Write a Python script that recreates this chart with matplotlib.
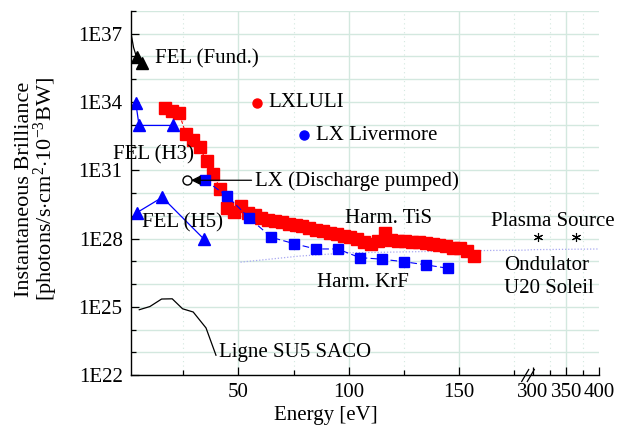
#!/usr/bin/env python3
import numpy as np
import matplotlib
matplotlib.use("Agg")
import matplotlib.pyplot as plt

plt.rcParams["font.family"] = ["Liberation Serif", "DejaVu Serif"]
plt.rcParams["font.size"] = 15
plt.rcParams["mathtext.fontset"] = "custom"
plt.rcParams["mathtext.rm"] = "Liberation Serif"
plt.rcParams["mathtext.it"] = "Liberation Serif:italic"

# --- data (energy in eV, brilliance as log10) ---
tis_e = [17.05, 20.15, 23.25, 26.35, 29.45, 32.55, 35.65, 38.75, 41.85, 44.95,
         48.05, 51.15, 54.25, 57.35, 60.45, 63.55, 66.65, 69.75, 72.85, 75.95,
         79.05, 82.15, 85.25, 88.35, 91.45, 94.55, 97.65, 100.75, 103.85, 106.95,
         110.05, 113.15, 116.25, 119.35, 122.45, 125.55, 128.65, 131.75, 134.85,
         137.95, 141.05, 144.15, 147.25, 150.35, 153.45, 156.55]
tis_log = [33.72, 33.59, 33.50, 32.58, 32.31, 32.00, 31.39, 30.83, 30.17, 29.34,
           29.16, 29.42, 29.12, 29.03, 28.90, 28.81, 28.77, 28.72, 28.64, 28.59,
           28.55, 28.46, 28.37, 28.33, 28.24, 28.20, 28.11, 28.07, 27.98, 27.85,
           27.76, 27.89, 28.24, 27.93, 27.89, 27.89, 27.85, 27.85, 27.80,
           27.76, 27.72, 27.67, 27.58, 27.58, 27.46, 27.24]

krf_e = [35, 45, 55, 65, 75, 85, 95, 105, 115, 125, 135, 145]
krf_log = [30.56, 29.86, 28.90, 28.05, 27.78, 27.54, 27.54, 27.16, 27.09, 26.98, 26.84, 26.69]

fel_fund_line_e = [1.5, 2.6, 4.0, 6.3]
fel_fund_line_log = [37.0, 36.4, 35.96, 35.72]
fel_fund_e = [4.0, 6.3]
fel_fund_log = [35.96, 35.72]

fel_h3_e = [3.6, 5.1, 20.6]
fel_h3_log = [33.97, 32.97, 32.97]

fel_h5_e = [4.0, 15.6, 34.5]
fel_h5_log = [29.13, 29.81, 27.97]

lxluli_e, lxluli_log = [58.3], [33.95]
lxliv_e, lxliv_log = [79.9], [32.57]
lxdis_e, lxdis_log = [26.7], [30.56]

plasma_e = [307, 365]
plasma_log = [28.05, 28.05]

ond_e = [51, 78, 100, 160, 180, 300, 400]
ond_log = [26.96, 27.23, 27.37, 27.47, 27.49, 27.51, 27.54]

saco_e = [5.2, 10.0, 15.3, 20.1, 24.8, 29.6, 35.4, 39.9]
saco_log = [24.87, 25.01, 25.34, 25.35, 24.91, 24.77, 24.07, 22.87]

ytick_pows = [22, 25, 28, 31, 34, 37]

# broken x axis: 0-182 linear, 296-400 compressed
XB = [-100, 182, 296, 1000]
UB = [-100, 182, 182.2, 182.2 + 704 * 0.3]


def fwd(x):
    return np.interp(x, XB, UB)


def inv(u):
    return np.interp(u, UB, XB)


def p(v):
    return 10.0 ** np.asarray(v)


fig = plt.figure(figsize=(6.28, 4.34), dpi=100)
ax = fig.add_axes([0.2086, 0.1359, 0.7457, 0.8388])
ax.set_xscale("function", functions=(fwd, inv))
ax.set_yscale("log")
ax.set_xlim(1.45, 400)
ax.set_ylim(1e22, 1e38)

gc = "#d3e8df"
for k in range(22, 39):
    ax.axhline(10.0 ** k, color=gc, lw=1.0, zorder=0)
for v in [50, 100, 150, 350]:
    ax.axvline(v, color=gc, lw=1.0, zorder=0)
for v in [25, 75, 125, 175, 325, 375]:
    ax.axvline(v, color=gc, lw=0.8, ls=(0, (1, 3)), zorder=0)

ax.plot(ond_e, p(ond_log), color="#a8a8f0", lw=0.9, ls=(0, (1, 1.5)))
ax.plot(saco_e, p(saco_log), color="black", lw=0.9)

ax.plot(tis_e, p(tis_log), color="red", lw=0.8, ls=(0, (3, 2)),
        marker="s", ms=8.5, mec="red", mfc="red")
ax.plot(krf_e, p(krf_log), color="blue", lw=0.8, ls=(0, (6, 3)),
        marker="s", ms=6.5, mec="blue", mfc="blue")

ax.plot(fel_fund_line_e, p(fel_fund_line_log), color="black", lw=0.9)
ax.plot(fel_fund_e, p(fel_fund_log), ls="none", marker="^", ms=8, color="black")
ax.plot(fel_h3_e, p(fel_h3_log), color="blue", lw=0.9, marker="^", ms=8)
ax.plot(fel_h5_e, p(fel_h5_log), color="blue", lw=0.9, marker="^", ms=8)

ax.plot(lxluli_e, p(lxluli_log), ls="none", marker="o", ms=6.5, color="red")
ax.plot(lxliv_e, p(lxliv_log), ls="none", marker="o", ms=6.5, color="blue")
ax.plot(lxdis_e, p(lxdis_log), ls="none", marker="o", ms=6.5, mfc="white",
        mec="black", mew=1.0)
ax.plot(plasma_e, p(plasma_log), ls="none", marker=(6, 2, 0), ms=6.5,
        color="black", mew=0.8)

ax.annotate("", xy=(28.6, p(30.56)), xytext=(56, p(30.56)),
            arrowprops=dict(arrowstyle="-|>", color="black", lw=0.9,
                            mutation_scale=14, shrinkA=0, shrinkB=0))

labels = [
    ("FEL (Fund.)", 12.3, 35.91),
    ("LXLULI", 63.4, 33.98),
    ("LX Livermore", 85.2, 32.53),
    ("FEL (H3)", -6.7, 31.66),
    ("LX (Discharge pumped)", 57.6, 30.52),
    ("FEL (H5)", 6.3, 28.68),
    ("Harm. TiS", 98.3, 28.90),
    ("Harm. KrF", 85.5, 26.06),
    ("Plasma Source", 164.2, 28.74),
    ("Ondulator", 170.2, 26.80),
    ("U20 Soleil", 170.2, 25.79),
    ("Ligne SU5 SACO", 41.4, 23.0),
]
for txt, x, y in labels:
    ax.text(x, p(y), txt, ha="left", va="center", clip_on=False)

ax.set_xticks([50, 100, 150, 300, 350, 400])
ax.set_xticklabels(["50", "100", "150", "300", "350", "400"])
ax.set_xticks([25, 75, 125, 175, 325, 375], minor=True)
ax.set_yticks(p(ytick_pows))
ax.set_yticklabels(["1E%d" % k for k in ytick_pows])
ax.set_yticks(p([k for k in range(22, 39) if k not in ytick_pows]), minor=True)
ax.yaxis.set_minor_formatter(plt.NullFormatter())
ax.tick_params(which="both", direction="in", width=0.9)
ax.tick_params(which="major", length=6, pad=6)
ax.tick_params(which="minor", length=3.5)

for s in ["top", "right"]:
    ax.spines[s].set_visible(False)
for s in ["left", "bottom"]:
    ax.spines[s].set_linewidth(1.0)

# break marks on the energy axis
w = 599.3 - 131
h = 364.0
for x0 in [521.7, 527.3]:
    ax.plot([(x0 - 131) / w, (x0 + 7 - 131) / w], [-6.5 / h, 5.5 / h],
            transform=ax.transAxes, color="black", lw=0.9, clip_on=False)

ax.set_xlabel("Energy [eV]")
ax.xaxis.set_label_coords(0.417, -0.085)
ax.xaxis.label.set_va("top")
ax.set_ylabel("Instantaneous Brilliance\n[photons/s$\\cdot$cm$^2$$\\cdot$10$^{-3}$BW]",
              linespacing=0.9, fontsize=16)
ax.yaxis.set_label_coords(-0.152, 0.51)

plt.savefig("out.png", dpi=100)
